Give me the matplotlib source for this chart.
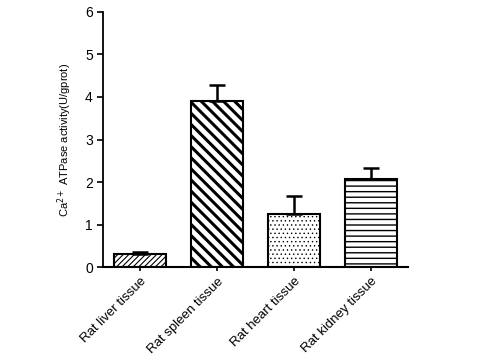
import numpy as np
import matplotlib
matplotlib.use('Agg')
import matplotlib.pyplot as plt

plt.rcParams['font.family'] = ['Liberation Sans', 'DejaVu Sans']

tissues = ['Rat liver tissue', 'Rat spleen tissue', 'Rat heart tissue', 'Rat kidney tissue']
activity = [0.30, 3.90, 1.25, 2.08]
err = [0.05, 0.38, 0.42, 0.24]
hatches = ['//////', '\\\\\\', '....', '---']
hatch_lw = [0.8, 2.2, 0.5, 1.0]

fig = plt.figure(figsize=(4.8, 3.6), dpi=100)
ax = fig.add_axes([0.215, 0.258, 0.635, 0.709])

x = np.arange(len(tissues))
for i in range(len(tissues)):
    plt.rcParams['hatch.linewidth'] = hatch_lw[i]
    b = ax.bar(x[i], activity[i], width=0.67, color='white', edgecolor='black',
               linewidth=1.5, hatch=hatches[i], zorder=2)
    for p in b:
        if hasattr(p, 'set_hatch_linewidth'):
            p.set_hatch_linewidth(hatch_lw[i])
    ax.errorbar(x[i], activity[i], yerr=[[0], [err[i]]], fmt='none', ecolor='black',
                elinewidth=1.8, capsize=6, capthick=1.8, zorder=3)

ax.set_xlim(-0.48, 3.48)
ax.set_ylim(0, 6)
ax.set_yticks(range(7))
ax.set_xticks(x)
ax.set_xticklabels(tissues, rotation=45, ha='right', rotation_mode='anchor', fontsize=9.5)
ax.tick_params(axis='y', labelsize=10, width=1.2, length=4, direction='out')
ax.tick_params(axis='x', width=1.2, length=3, direction='out', pad=3)
ax.spines['top'].set_visible(False)
ax.spines['right'].set_visible(False)
ax.spines['left'].set_linewidth(1.3)
ax.spines['bottom'].set_linewidth(1.5)
ax.set_ylabel('Ca$^{2+}$ ATPase activity(U/gprot)', fontsize=8, labelpad=8)

fig.savefig('out.png', dpi=100)
